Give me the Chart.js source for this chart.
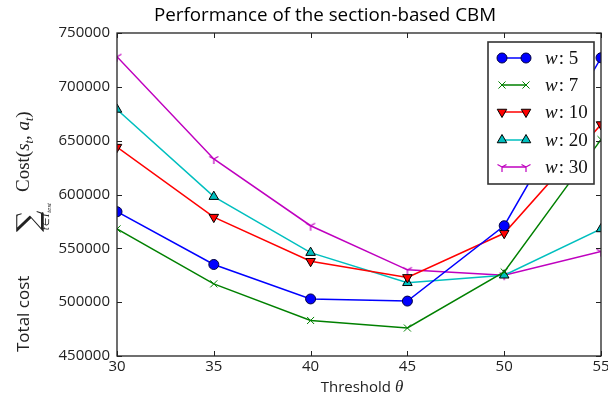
<!DOCTYPE html>
<html>
<head>
<meta charset="utf-8">
<script src="https://cdn.jsdelivr.net/npm/chart.js@4.4.1/dist/chart.umd.min.js"></script>
<style>
  html, body { margin: 0; padding: 0; background: #fff; }
  #wrap { width: 608px; height: 396px; }
</style>
</head>
<body>
<div id="wrap"><canvas id="myChart" width="608" height="396"></canvas></div>
<script>
// data
const thresholds = [30, 35, 40, 45, 50, 55];
const w5  = [584000, 535000, 503000, 501000, 571000, 727000];
const w7  = [568000, 517000, 483000, 476000, 528000, 651000];
const w10 = [644000, 579000, 538000, 523000, 564000, 665000];
const w20 = [679000, 598000, 546000, 518000, 525000, 568000];
const w30 = [728000, 633000, 571000, 530000, 525000, 547000];
const seriesNames = ['5', '7', '10', '20', '30'];
const yTicks = [450000, 500000, 550000, 600000, 650000, 700000, 750000];
const xTicks = [30, 35, 40, 45, 50, 55];

// matplotlib '1' marker (tri down) as a little canvas
function triMarker(color) {
  const c = document.createElement('canvas');
  c.width = 12; c.height = 12;
  const g = c.getContext('2d');
  g.strokeStyle = color; g.lineWidth = 1.2;
  g.beginPath();
  g.moveTo(6, 6); g.lineTo(6, 11);
  g.moveTo(6, 6); g.lineTo(1.5, 3.5);
  g.moveTo(6, 6); g.lineTo(10.5, 3.5);
  g.stroke();
  return c;
}

function pts(vals) {
  return vals.map((v, i) => ({ x: thresholds[i], y: v }));
}

const series = [
  { data: w5,  color: '#0000ff', style: 'circle',   radius: 5,   fill: '#0000ff', edge: '#000040', rot: 0 },
  { data: w7,  color: '#008000', style: 'crossRot', radius: 5,   fill: '#008000', edge: '#008000', rot: 0 },
  { data: w10, color: '#ff0000', style: 'triangle', radius: 5.5, fill: '#ff0000', edge: '#000000', rot: 180 },
  { data: w20, color: '#00bfbf', style: 'triangle', radius: 5.5, fill: '#00bfbf', edge: '#000000', rot: 0 },
  { data: w30, color: '#bf00bf', style: triMarker('#bf00bf'), radius: 6, fill: '#bf00bf', edge: '#bf00bf', rot: 0 }
];

const datasets = series.map((s, i) => ({
  label: 'w: ' + seriesNames[i],
  data: pts(s.data),
  borderColor: s.color,
  borderWidth: 1.5,
  pointStyle: s.style,
  pointRadius: s.radius,
  pointRotation: s.rot,
  pointBackgroundColor: s.fill,
  pointBorderColor: s.edge,
  pointBorderWidth: 1,
  tension: 0,
  clip: 0
}));

const PLOT = { left: 117, right: 603, top: 33, bottom: 356 };

const decor = {
  id: 'decor',
  afterDatasetsDraw(chart) {
    const ctx = chart.ctx;
    const a = chart.chartArea;
    const xs = chart.scales.x, ys = chart.scales.y;
    ctx.save();

    // frame
    ctx.strokeStyle = '#222';
    ctx.lineWidth = 1.3;
    ctx.strokeRect(a.left, a.top, a.right - a.left, a.bottom - a.top);

    // inward ticks
    ctx.lineWidth = 1;
    ctx.beginPath();
    xTicks.forEach(t => {
      const px = Math.round(xs.getPixelForValue(t)) + 0.5;
      ctx.moveTo(px, a.bottom); ctx.lineTo(px, a.bottom - 5);
      ctx.moveTo(px, a.top); ctx.lineTo(px, a.top + 5);
    });
    yTicks.forEach(t => {
      const py = Math.round(ys.getPixelForValue(t)) + 0.5;
      ctx.moveTo(a.left, py); ctx.lineTo(a.left + 5, py);
      ctx.moveTo(a.right, py); ctx.lineTo(a.right - 5, py);
    });
    ctx.stroke();

    // title
    ctx.fillStyle = '#000';
    ctx.font = '18.8px "Open Sans"';
    ctx.textAlign = 'center';
    ctx.textBaseline = 'middle';
    ctx.fillText('Performance of the section-based CBM', 325, 16);

    // x axis title
    ctx.fillStyle = '#222';
    ctx.textBaseline = 'alphabetic';
    ctx.textAlign = 'left';
    ctx.font = '15px "Open Sans"';
    const xt = 'Threshold ';
    const w1 = ctx.measureText(xt).width;
    ctx.font = 'italic 17px "Liberation Serif"';
    const w2 = ctx.measureText('θ').width;
    let x0 = 362 - (w1 + w2) / 2;
    ctx.font = '15px "Open Sans"';
    ctx.fillText(xt, x0, 392);
    ctx.font = 'italic 17px "Liberation Serif"';
    ctx.fillText('θ', x0 + w1, 392);

    // y axis title, rotated
    ctx.save();
    ctx.translate(29, 352);
    ctx.rotate(-Math.PI / 2);
    ctx.fillStyle = '#222';
    ctx.font = '17px "Open Sans"';
    ctx.fillText('Total cost', 0, 0);
    ctx.font = '30px "DejaVu Serif"';
    ctx.fillText('∑', 120, 9);
    ctx.font = 'italic 10px "Liberation Serif"';
    ctx.fillText('t∈T', 122, 20);
    const wt = ctx.measureText('t∈T').width;
    ctx.font = 'italic 7px "Liberation Serif"';
    ctx.fillText('test', 122 + wt, 22);
    let cx = 160;
    const part = (txt, font, dy) => {
      ctx.font = font;
      ctx.fillText(txt, cx, dy);
      cx += ctx.measureText(txt).width;
    };
    part('Cost(', '19px "Liberation Serif"', 0);
    part('s', 'italic 19px "Liberation Serif"', 0);
    part('t', 'italic 12px "Liberation Serif"', 4);
    part(', ', '19px "Liberation Serif"', 0);
    part('a', 'italic 19px "Liberation Serif"', 0);
    part('t', 'italic 12px "Liberation Serif"', 4);
    part(')', '19px "Liberation Serif"', 0);
    ctx.restore();

    // legend
    const L = { x: 488, y: 42, w: 106, h: 142 };
    ctx.fillStyle = '#fff';
    ctx.fillRect(L.x, L.y, L.w, L.h);
    ctx.strokeStyle = '#333';
    ctx.lineWidth = 1.6;
    ctx.strokeRect(L.x, L.y, L.w, L.h);
    const rows = [58, 85, 112, 140, 167];
    chart.data.datasets.forEach((ds, i) => {
      const y = rows[i];
      ctx.strokeStyle = ds.borderColor;
      ctx.lineWidth = 1.5;
      ctx.beginPath();
      ctx.moveTo(502, y); ctx.lineTo(526, y);
      ctx.stroke();
      [502, 526].forEach(px => {
        ctx.fillStyle = ds.pointBackgroundColor;
        ctx.strokeStyle = ds.pointBorderColor;
        ctx.lineWidth = 1;
        Chart.helpers.drawPoint(ctx, {
          pointStyle: ds.pointStyle,
          rotation: ds.pointRotation,
          radius: ds.pointRadius,
          borderWidth: 1
        }, px, y);
      });
      ctx.fillStyle = '#111';
      ctx.font = 'italic 19px "Liberation Serif"';
      ctx.fillText('w', 545, y + 6);
      const ww = ctx.measureText('w').width;
      ctx.font = '19px "Liberation Serif"';
      ctx.fillText(': ' + seriesNames[i], 545 + ww + 1, y + 6);
    });

    ctx.restore();
  }
};

const ctx1 = document.getElementById('myChart');
new Chart(ctx1, {
  type: 'line',
  data: { datasets: datasets },
  options: {
    responsive: false,
    animation: false,
    layout: { padding: { top: PLOT.top, right: 608 - PLOT.right, left: 0, bottom: 0 } },
    plugins: { legend: { display: false }, title: { display: false }, tooltip: { enabled: false } },
    scales: {
      x: {
        type: 'linear',
        min: 30, max: 55,
        grid: { display: false, drawTicks: false },
        border: { display: false },
        ticks: { stepSize: 5, color: '#222', font: { family: 'Open Sans', size: 15 }, padding: 2, maxRotation: 0,
                 callback: v => String(v) },
        afterFit(s) { s.height = 396 - PLOT.bottom; s.paddingLeft = 0; s.paddingRight = 0; }
      },
      y: {
        min: 450000, max: 750000,
        grid: { display: false, drawTicks: false },
        border: { display: false },
        ticks: { stepSize: 50000, color: '#222', font: { family: 'Open Sans', size: 15 }, padding: 7,
                 callback: v => String(v) },
        afterFit(s) { s.width = PLOT.left; s.paddingTop = 0; s.paddingBottom = 0; }
      }
    }
  },
  plugins: [decor]
});
</script>
</body>
</html>
